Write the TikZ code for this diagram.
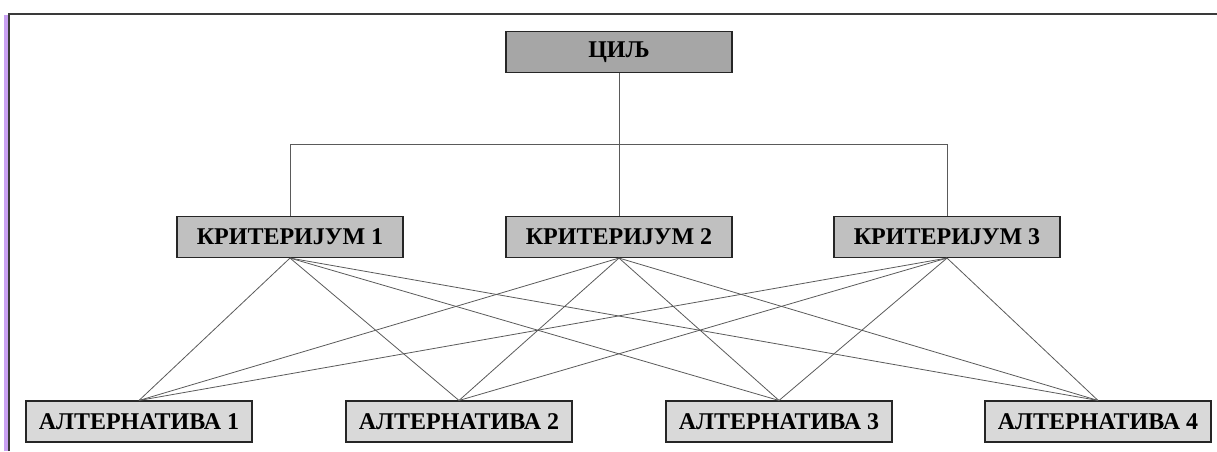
\documentclass[tikz,border=0pt]{standalone}
\usepackage{fontspec}
\setmainfont{Liberation Serif}
\definecolor{goalfill}{HTML}{A6A6A6}
\definecolor{critfill}{HTML}{C0C0C0}
\definecolor{altfill}{HTML}{D9D9D9}
\definecolor{framegray}{HTML}{3A3A3A}
\definecolor{linegray}{HTML}{5A5A5A}
\definecolor{lilac}{HTML}{C9A0F2}
\tikzset{
  box/.style={draw=black!85, line width=1.1pt, inner sep=0pt, minimum width=226pt, minimum height=41pt,
    font=\fontsize{24}{26}\selectfont\bfseries},
  goalbox/.style={box, fill=goalfill},
  critbox/.style={box, fill=critfill},
  altbox/.style={box, fill=altfill},
  conn/.style={draw=linegray, line width=0.8pt},
}
\begin{document}
\begin{tikzpicture}[x=1pt,y=-1pt]
\useasboundingbox (0,0) rectangle (1217,451);
% frame
\fill[lilac] (4,15) rectangle (8,451);
\draw[framegray, line width=1.6pt] (9,451) -- (9,14) -- (1217,14);
% nodes
\node[goalbox] (g) at (619,52) {ЦИЉ};
\node[critbox] (k1) at (290,237) {КРИТЕРИЈУМ 1};
\node[critbox] (k2) at (619,237) {КРИТЕРИЈУМ 2};
\node[critbox] (k3) at (947,237) {КРИТЕРИЈУМ 3};
\node[altbox] (a1) at (139,421.5) {АЛТЕРНАТИВА 1};
\node[altbox] (a2) at (459,421.5) {АЛТЕРНАТИВА 2};
\node[altbox] (a3) at (779,421.5) {АЛТЕРНАТИВА 3};
\node[altbox] (a4) at (1098,421.5) {АЛТЕРНАТИВА 4};
% tree connectors
\coordinate (hl) at (290,144);
\coordinate (hr) at (947,144);
\draw[conn] (g.south) -- (k2.north);
\draw[conn] (k1.north) -- (hl) -- (hr) -- (k3.north);
% bipartite connectors
\foreach \k in {k1,k2,k3}{
  \foreach \a in {a1,a2,a3,a4}{
    \draw[conn] (\k.south) -- (\a.north);
  }
}
\end{tikzpicture}
\end{document}
